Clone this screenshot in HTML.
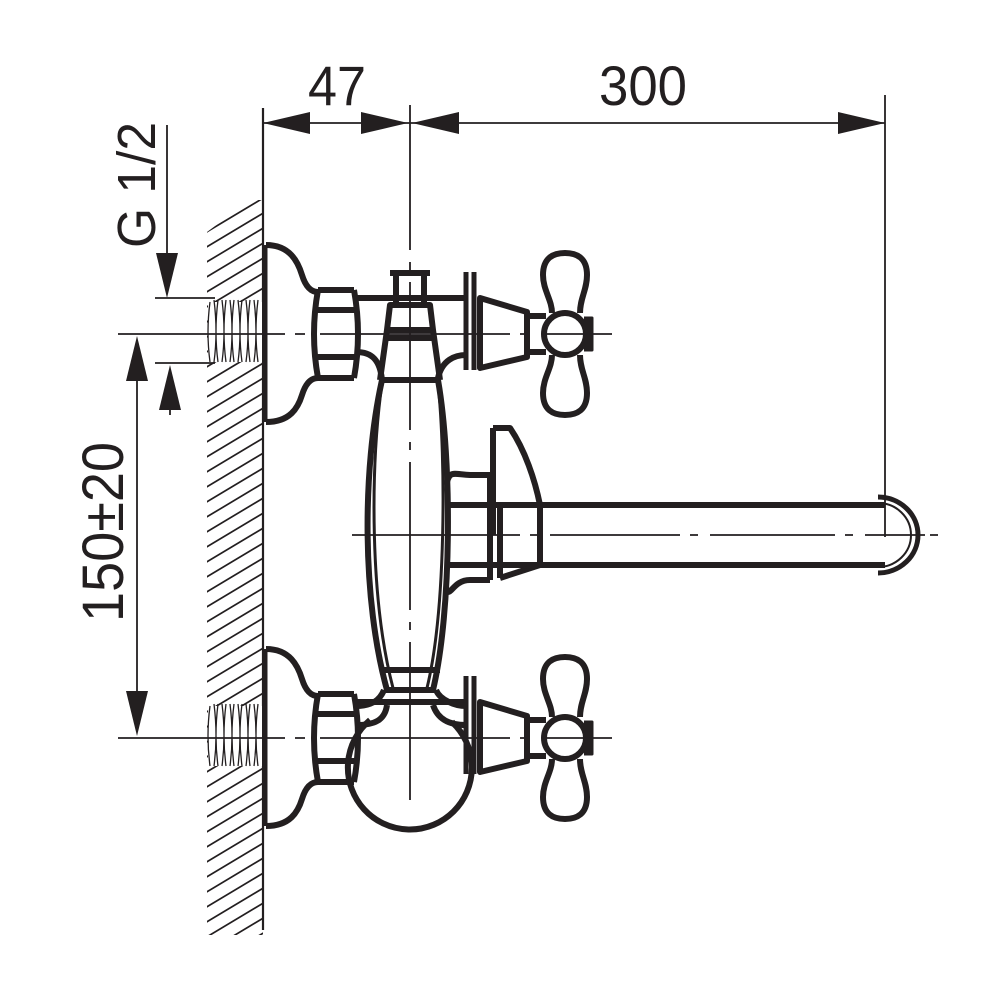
<!DOCTYPE html>
<html><head><meta charset="utf-8"><style>
html,body{margin:0;padding:0;background:#fff}
svg{display:block}
text{font-family:"Liberation Sans Narrow","Liberation Sans",sans-serif;fill:#231f20}
</style></head><body>
<svg width="1000" height="1000" viewBox="0 0 1000 1000" xmlns="http://www.w3.org/2000/svg">
<defs>
<clipPath id="hc"><polygon points="207,232 250,200 263,200 263,935 207,935"/></clipPath>
<g id="valve" fill="none" stroke="#231f20" stroke-width="6" stroke-linejoin="round">
  <line x1="265" y1="245" x2="265" y2="422" stroke-width="5"/>
  <path d="M266,245 C290,245 298,262 302,275 C306,288 312,292 318,292 M318,378 C312,378 306,382 302,395 C298,408 290,422 266,422"/>
  <g stroke-width="1.3">
    <rect x="208" y="302" width="54" height="60" stroke="none" fill="#fff"/>
    <path d="M210,302 q-4,30 0,60 M218,300 q-4,32 0,62 M226,300 q-4,32 0,62 M234,300 q-4,32 0,62 M242,300 q-4,32 0,62 M250,300 q-4,32 0,62 M258,300 q-4,32 0,62 M214,300 q4,32 0,62 M222,300 q4,32 0,62 M230,300 q4,32 0,62 M238,300 q4,32 0,62 M246,300 q4,32 0,62 M254,300 q4,32 0,62"/>
  </g>
  <path d="M318,290 L354,290 M318,378 L354,378 M318,290 Q310,334 318,378 M354,290 Q362,334 354,378 M316,310 L356,310 M316,357 L356,357"/>
  <path d="M356,298 L465,298"/>
  <path d="M466,272 L466,370 M474,272 L474,370" stroke-width="5"/>
  <path d="M480,298 L527,312 L527,357 L480,368 Z"/>
  <path d="M527,316 L546,316 M527,352 L546,352"/>
  <circle cx="565" cy="334" r="21"/>
  <path d="M584,318 L592,318 L592,350 L584,350" fill="#231f20" stroke-width="3"/>
  <path d="M552,313 C552,300 543,290 543,275 C543,258 553,253 565,253 C577,253 587,258 587,275 C587,290 580,298 580,313"/>
  <path d="M552,355 C552,368 543,378 543,393 C543,410 553,415 565,415 C577,415 587,410 587,393 C587,378 580,370 580,355"/>
</g>
</defs>

<g clip-path="url(#hc)" stroke="#231f20" stroke-width="1.7" fill="none">
  <path d="
  M200,236 l70,-42 M200,251 l70,-42 M200,266 l70,-42 M200,281 l70,-42 M200,296 l70,-42 M200,311 l70,-42
  M200,326 l70,-42 M200,341 l70,-42 M200,356 l70,-42 M200,371 l70,-42 M200,386 l70,-42 M200,401 l70,-42
  M200,416 l70,-42 M200,431 l70,-42 M200,446 l70,-42 M200,461 l70,-42 M200,476 l70,-42 M200,491 l70,-42
  M200,506 l70,-42 M200,521 l70,-42 M200,536 l70,-42 M200,551 l70,-42 M200,566 l70,-42 M200,581 l70,-42
  M200,596 l70,-42 M200,611 l70,-42 M200,626 l70,-42 M200,641 l70,-42 M200,656 l70,-42 M200,671 l70,-42
  M200,686 l70,-42 M200,701 l70,-42 M200,716 l70,-42 M200,731 l70,-42 M200,746 l70,-42 M200,761 l70,-42
  M200,776 l70,-42 M200,791 l70,-42 M200,806 l70,-42 M200,821 l70,-42 M200,836 l70,-42 M200,851 l70,-42
  M200,866 l70,-42 M200,881 l70,-42 M200,896 l70,-42 M200,911 l70,-42 M200,926 l70,-42 M200,941 l70,-42
  M200,956 l70,-42 M200,971 l70,-42"/>
</g>
<line x1="263" y1="108" x2="263" y2="930" stroke="#231f20" stroke-width="2.2"/>

<use href="#valve"/>
<use href="#valve" transform="translate(0,404)"/>

<g fill="none" stroke="#231f20" stroke-width="6" stroke-linejoin="round">
  <path d="M390,273 L430,273 M396,273 L396,305 M424,273 L424,305"/>
  <path d="M390,305 L430,305 L433,330 L387,330 Z"/>
  <path d="M387,338 L433,338"/>
  <path d="M387,330 L380,380 M433,330 L440,380 M382,380 L438,380"/>
  <path d="M382,380 C362,470 362,600 387,690"/>
  <path d="M438,380 C452,460 452,610 433,690"/>
  <path d="M382,383 C370,470 370,600 393,688" stroke-width="3"/>
  <path d="M438,383 C446,460 446,610 427,688" stroke-width="3"/>
  <path d="M380,670 L440,670 M384,690 L436,690"/>
  <path d="M356,352 C372,352 380,360 382,380 M438,378 C442,360 455,355 466,355"/>
  <path d="M356,706 C372,706 380,700 384,690 M436,690 C440,700 455,706 466,706"/>
  <path d="M356,725 C375,725 385,720 387,705 M433,705 C438,720 450,725 466,725"/>
  <path d="M370,720 A62,62 0 1 0 452,722"/>
  <path d="M446,485 C450,470 452,474 470,475 L490,475"/>
  <path d="M446,588 C450,600 452,580 470,580 L490,580"/>
  <path d="M448,505 L885,505 M448,565 L885,565"/>
  <path d="M493,428 L493,535 M490,478 L490,580 M500,505 L500,578"/>
  <path d="M493,428 L510,428 C525,450 535,480 540,505 L540,565 L500,578"/>
  <path d="M878,497 A40,38 0 0 1 878,573" stroke-width="5"/>
  <path d="M878,503 A33,32 0 0 1 878,567" stroke-width="2"/>
</g>

<g stroke="#231f20" stroke-width="1.8" fill="none">
  <path d="M118,334 L285,334 M295,334 L305,334 M320,334 L510,334 M520,334 L528,334 M545,334 L612,334" />
  <path d="M118,738 L285,738 M295,738 L305,738 M320,738 L510,738 M520,738 L528,738 M545,738 L612,738" />
  <path d="M352,535 L520,535 M530,535 L540,535 M550,535 L680,535 M690,535 L698,535 M710,535 L835,535 M845,535 L853,535 M865,535 L925,535 M930,535 L938,535"/>
  <path d="M410,105 L410,250 M410,262 L410,270 M410,282 L410,430 M410,442 L410,450 M410,462 L410,610 M410,622 L410,630 M410,642 L410,800"/>
  <line x1="885" y1="95" x2="885" y2="537"/>
  <line x1="155" y1="298" x2="215" y2="298"/>
  <line x1="155" y1="363" x2="215" y2="363"/>
  <line x1="167" y1="125" x2="167" y2="260"/>
  <line x1="170" y1="395" x2="170" y2="415"/>
  <line x1="137" y1="370" x2="137" y2="700"/>
  <line x1="263" y1="123" x2="885" y2="123"/>
</g>
<g fill="#231f20">
  <polygon points="263,123 310,112 310,134"/>
  <polygon points="408,123 361,112 361,134"/>
  <polygon points="412,123 459,112 459,134"/>
  <polygon points="885,123 838,112 838,134"/>
  <polygon points="167,298 156,253 178,253"/>
  <polygon points="170,365 159,410 181,410"/>
  <polygon points="137,336 126,381 148,381"/>
  <polygon points="137,736 126,691 148,691"/>
</g>
<text x="337" y="105" font-size="56" text-anchor="middle" textLength="58" lengthAdjust="spacingAndGlyphs">47</text>
<text x="643" y="105" font-size="56" text-anchor="middle" textLength="88" lengthAdjust="spacingAndGlyphs">300</text>
<text transform="translate(155,185) rotate(-90)" font-size="54" text-anchor="middle" textLength="126" lengthAdjust="spacingAndGlyphs">G 1/2</text>
<text transform="translate(123,532) rotate(-90)" font-size="58" text-anchor="middle" textLength="180" lengthAdjust="spacingAndGlyphs">150±20</text>
</svg>
</body></html>
